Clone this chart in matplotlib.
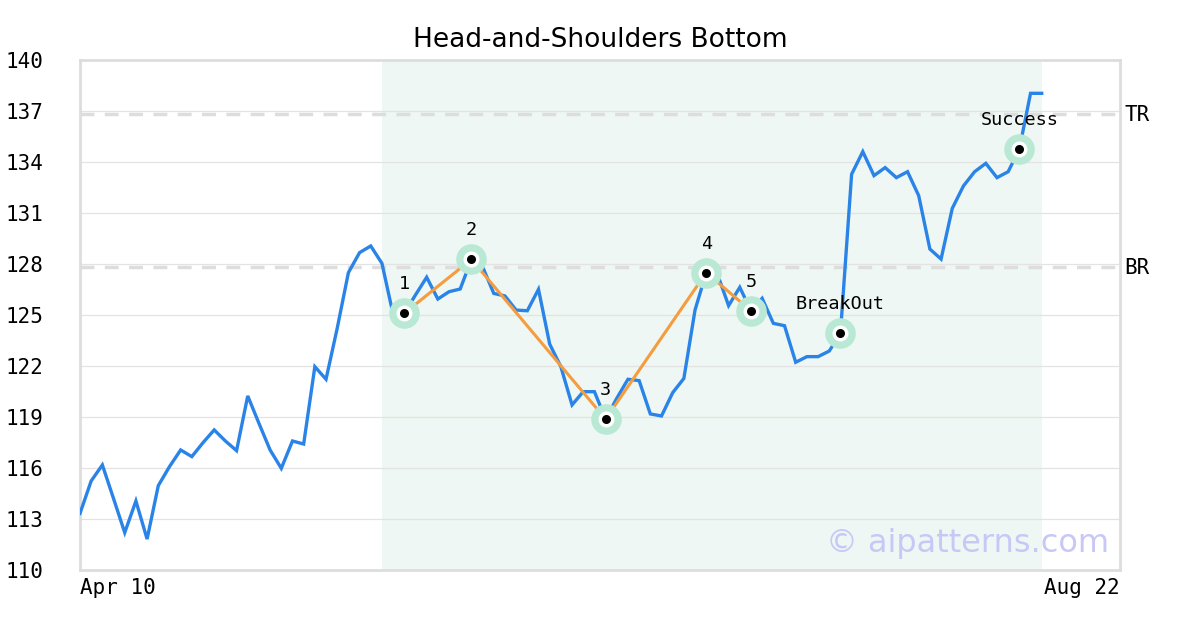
import matplotlib
matplotlib.use("Agg")
import matplotlib.pyplot as plt

# ---- data ----
title = "Head-and-Shoulders Bottom"
x_labels = ["Apr 10", "Aug 22"]
prices = [
    113.33, 115.24, 116.18, 114.2, 112.2, 114.06, 111.82, 114.96, 116.08, 117.06,
    116.67, 117.49, 118.24, 117.59, 117.02, 120.24, 118.63, 117.06, 115.98, 117.59,
    117.41, 121.96, 121.22, 124.22, 127.49, 128.67, 129.06, 128.04, 125.04, 125.1,
    126.18, 127.22, 125.94, 126.37, 126.53, 128.27, 127.84, 126.27, 126.12, 125.29,
    125.25, 126.51, 123.29, 121.96, 119.71, 120.49, 120.49, 118.88, 120.1, 121.22,
    121.14, 119.18, 119.06, 120.43, 121.27, 125.3, 127.49, 127.41, 125.55, 126.63,
    125.25, 125.98, 124.51, 124.37, 122.22, 122.55, 122.55, 122.88, 123.92, 133.28,
    134.61, 133.2, 133.67, 133.08, 133.43, 132.02, 128.88, 128.29, 131.27, 132.59,
    133.43, 133.92, 133.08, 133.43, 134.76, 138.04, 138.04,
]
pattern_idx = [29, 35, 47, 56, 60]
pattern_labels = ["1", "2", "3", "4", "5"]
extra_idx = [68, 84]
extra_labels = ["BreakOut", "Success"]
shade_range = [27, 86]
tr_level = 136.85
br_level = 127.85
y_ticks = [110, 113, 116, 119, 122, 125, 128, 131, 134, 137, 140]

# ---- plot ----
mono = "DejaVu Sans Mono"
fig = plt.figure(figsize=(12, 6.3), dpi=100)
ax = fig.add_axes([80 / 1200, 1 - 570 / 630, 1040 / 1200, 510 / 630])
xs = list(range(len(prices)))
ax.set_xlim(0, 93)
ax.set_ylim(110, 140)

ax.axvspan(shade_range[0], shade_range[1], color="#eef7f3", zorder=0, lw=0)
for v in y_ticks:
    ax.axhline(v, color="#e3e3e3", lw=0.9, zorder=1)
for lvl in (tr_level, br_level):
    ax.axhline(lvl, color="#dddddd", lw=2.5, ls=(0, (4, 3)), zorder=1)

ax.plot(xs, prices, color="#2a84e8", lw=2.4, zorder=3, solid_joinstyle="miter")
ax.plot(pattern_idx, [prices[i] for i in pattern_idx], color="#f59c3f", lw=2.2, zorder=4)

mk_idx = pattern_idx + extra_idx
mk_lab = pattern_labels + extra_labels
mx = mk_idx
my = [prices[i] for i in mk_idx]
ax.plot(mx, my, ls="none", marker="o", ms=22, color="#b9e8d4", mec="none", zorder=5)
ax.plot(mx, my, ls="none", marker="o", ms=11.5, color="white", mec="none", zorder=6)
ax.plot(mx, my, ls="none", marker="o", ms=6.5, color="black", mec="none", zorder=7)
for xi, yi, lab in zip(mx, my, mk_lab):
    ax.annotate(lab, (xi, yi), xytext=(0, 29), textcoords="offset pixels",
                ha="center", va="center", fontsize=13.3, family=mono, zorder=8)

ax.set_yticks(y_ticks)
ax.set_yticklabels([str(v) for v in y_ticks], family=mono, fontsize=15)
ax.tick_params(axis="y", length=0, pad=54)
for lbl in ax.get_yticklabels():
    lbl.set_horizontalalignment("left")
ax.set_xticks([0, 93])
ax.set_xticklabels(x_labels, family=mono, fontsize=15)
xt = ax.get_xticklabels()
xt[0].set_horizontalalignment("left")
xt[1].set_horizontalalignment("right")
ax.tick_params(axis="x", length=0, pad=6)

for s in ax.spines.values():
    s.set_color("#dddddd")
    s.set_linewidth(2)

ax.text(1.004, (tr_level - 110) / 30 - 0.002, "TR", transform=ax.transAxes, family=mono,
        fontsize=15, va="center", ha="left")
ax.text(1.004, (br_level - 110) / 30 - 0.002, "BR", transform=ax.transAxes, family=mono,
        fontsize=15, va="center", ha="left")

ax.text(0.99, 0.052, "© aipatterns.com", transform=ax.transAxes, ha="right", va="center",
        fontsize=23, color="#c8c8f7", zorder=9, family="DejaVu Sans")

fig.text(0.5, 1 - 40 / 630, title, ha="center", va="center", fontsize=19, family="DejaVu Sans")

fig.savefig("out.png", dpi=100)
